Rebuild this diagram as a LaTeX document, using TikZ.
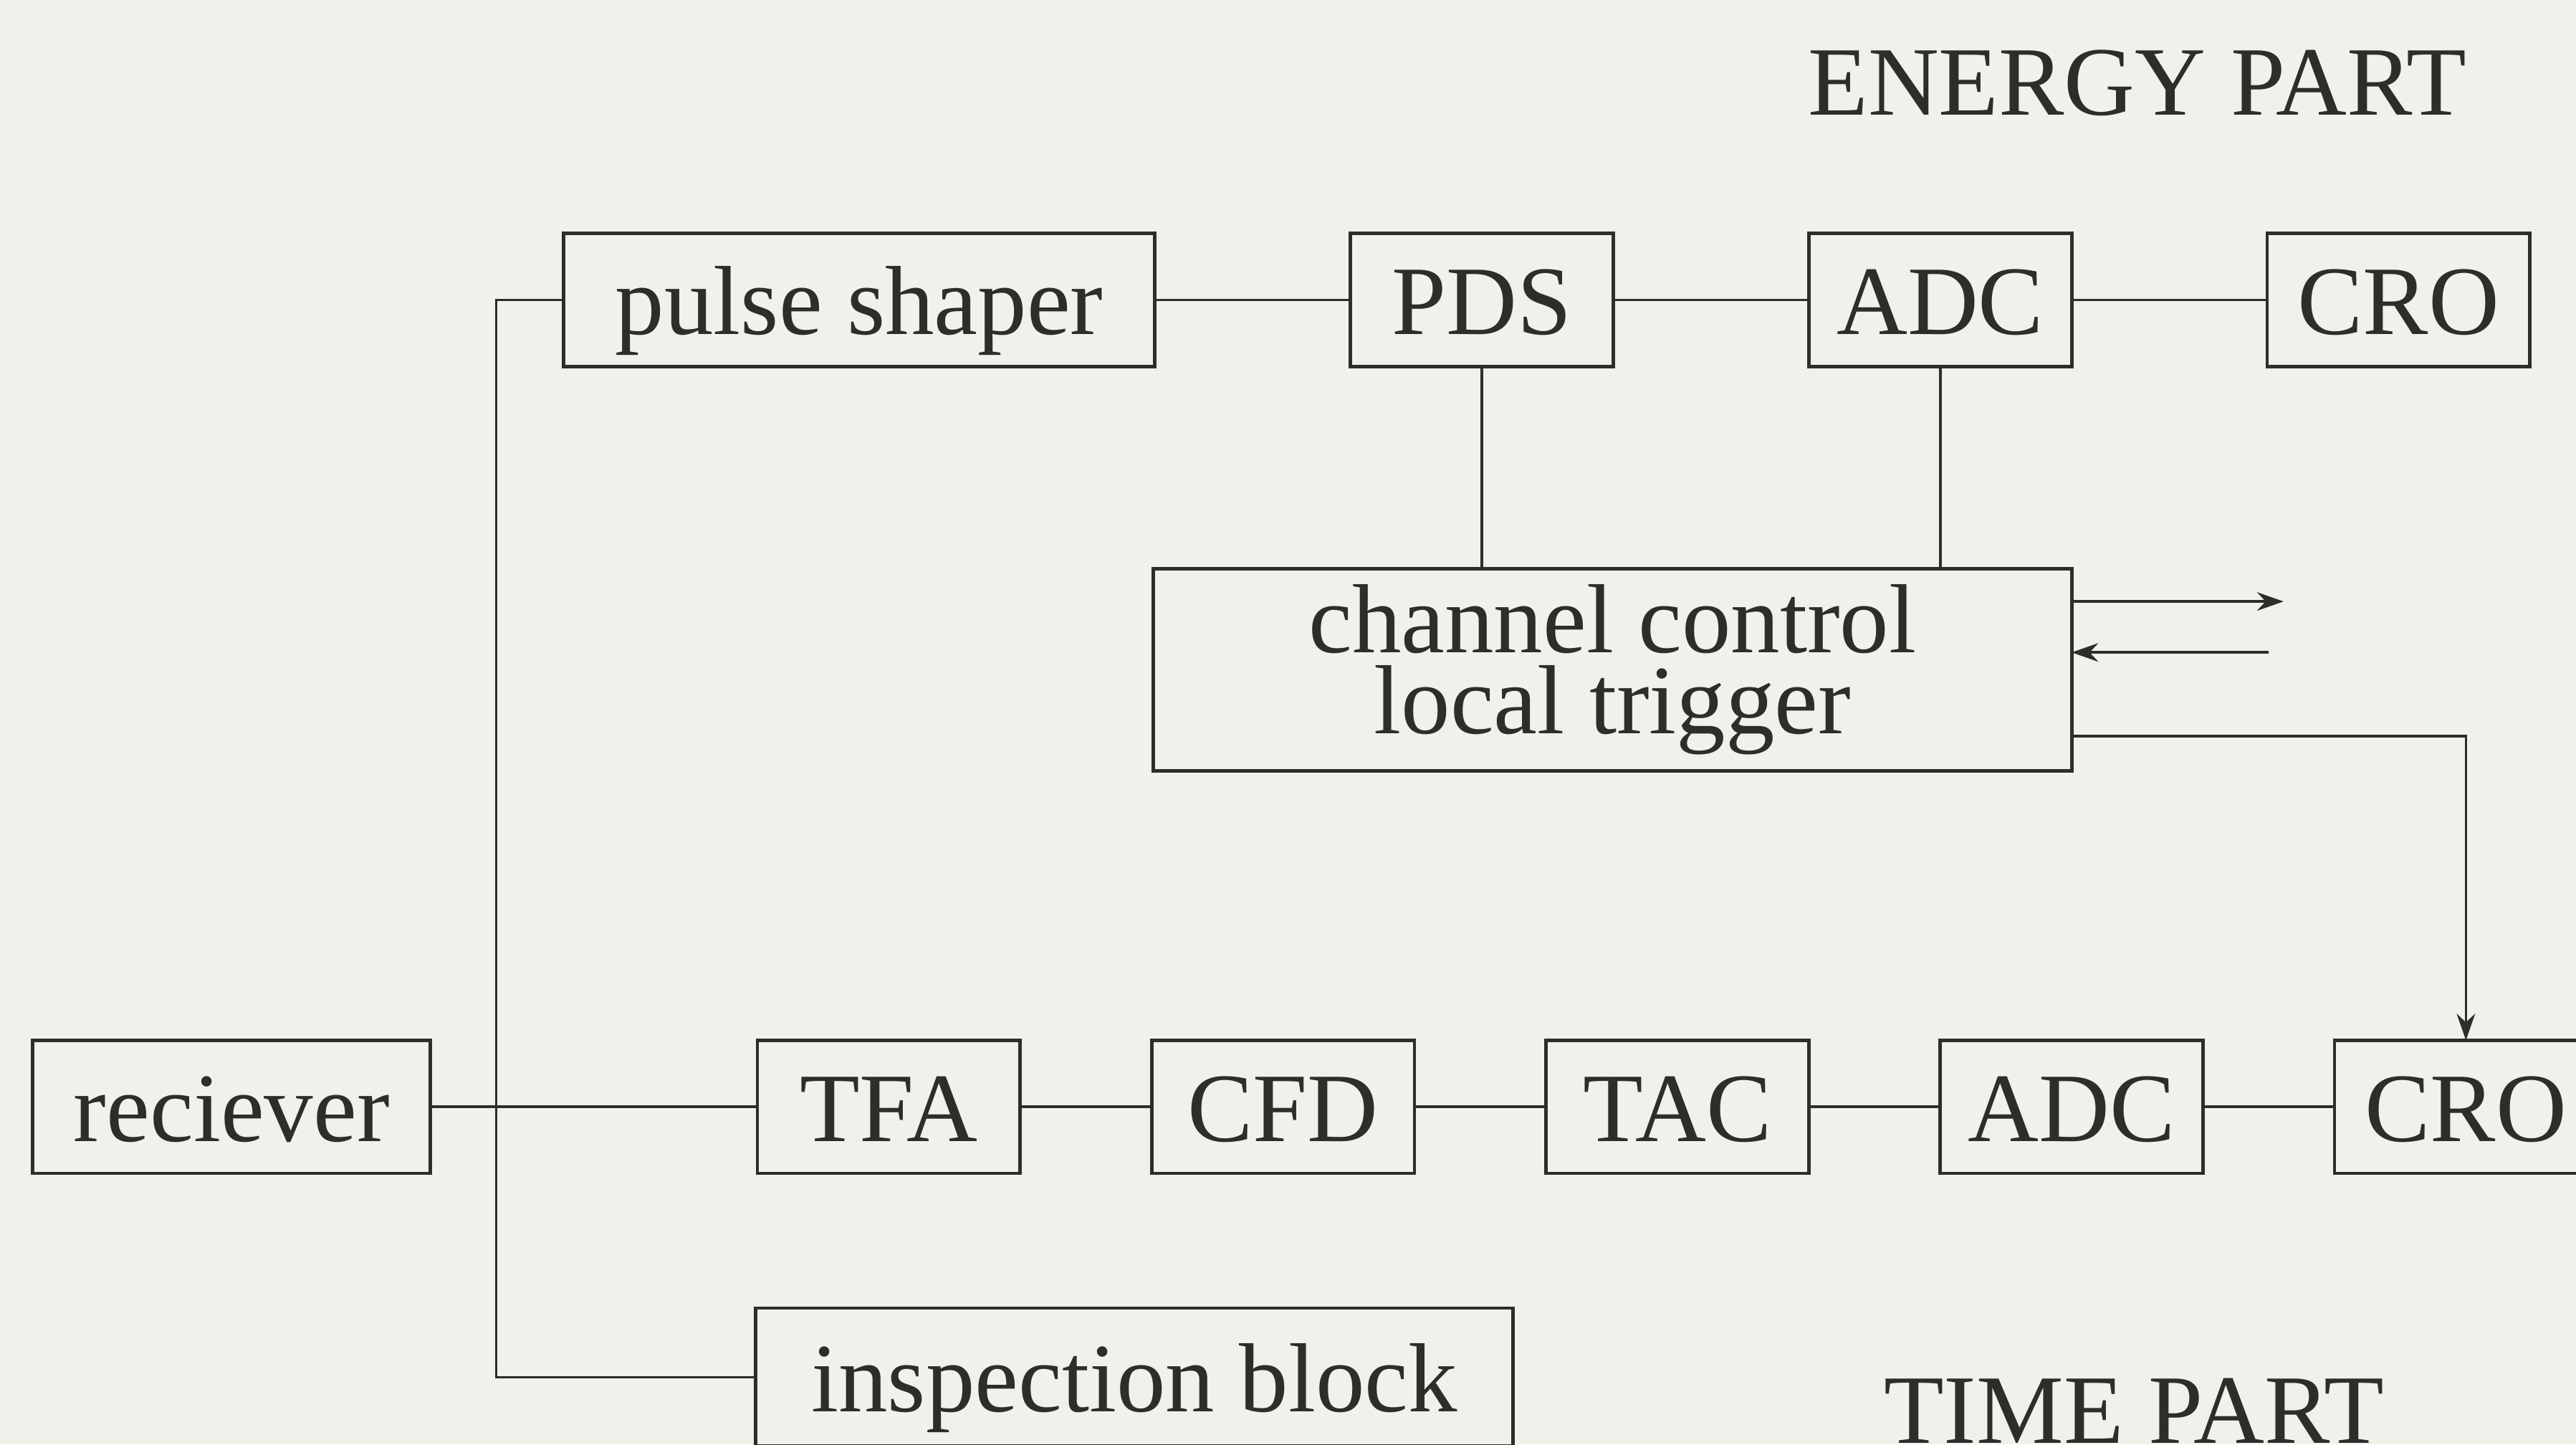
\documentclass[tikz,border=0pt]{standalone}
\usepackage{fontspec}
\setmainfont{Liberation Serif}
\usetikzlibrary{arrows.meta,positioning,calc}
\definecolor{paper}{RGB}{241,241,235}
\definecolor{ink}{RGB}{45,45,42}

\begin{document}
\begin{tikzpicture}[
    x=0.1mm, y=-0.1mm,
    blk/.style={rectangle, draw=ink, line width=0.6pt, minimum width=1.6cm, minimum height=0.81cm, inner sep=0pt, outer sep=0pt, text=ink, font=\fontsize{17}{14}\selectfont, text height=13pt, text depth=1pt},
    lbl/.style={text=ink, font=\fontsize{17}{14}\selectfont, anchor=base, inner sep=0pt},
    conn/.style={draw=ink, line width=0.45pt},
    arrow/.style={conn, -{Stealth[length=4.6pt, width=3.2pt]}}
]
\useasboundingbox (0,0) rectangle (1568,879);
\clip (0,0) rectangle (1568,879);
\fill[paper] (0,0) rectangle (1568,879);

% energy part
\node[blk, minimum width=3.6cm] (ps) at (523,182.5) {pulse shaper};
\node[blk, right=1.19cm of ps] (pds) {PDS};
\node[blk, right=1.19cm of pds] (adct) {ADC};
\node[blk, right=1.19cm of adct] (crot) {CRO};
\node[blk, minimum width=5.59cm, minimum height=1.23cm, text height=, text depth=, align=center] (chan) at (981.5,407.5) {channel control\\local trigger};

% time part
\node[blk, minimum width=2.42cm] (rec) at (141,673.5) {reciever};
\node[blk, right=1.99cm of rec] (tfa) {TFA};
\node[blk, right=0.8cm of tfa] (cfd) {CFD};
\node[blk, right=0.8cm of cfd] (tac) {TAC};
\node[blk, right=0.8cm of tac] (adcb) {ADC};
\node[blk, right=0.8cm of adcb] (crob) {CRO};
\node[blk, minimum width=4.61cm, minimum height=0.84cm, anchor=north west] (insp) at (460,796) {inspection block};

\node[lbl] (energy) at (1301,70) {ENERGY PART};
\node[lbl] (time) at (1299,878) {TIME PART};

\coordinate (bus) at (302,673.5);
\coordinate (out) at (1390,366);
\coordinate (in) at (1381,397);

\draw[conn] (ps) -- (pds);
\draw[conn] (pds) -- (adct);
\draw[conn] (adct) -- (crot);
\draw[conn] (pds) -- (pds |- chan.north);
\draw[conn] (adct) -- (adct |- chan.north);
\draw[arrow] (chan.east |- out) -- (out);
\draw[arrow] (in) -- (chan.east |- in);
\draw[arrow] ($(chan.south east)+(0,-21)$) -| (crob.north);

\draw[conn] (rec) -- (tfa);
\draw[conn] (tfa) -- (cfd);
\draw[conn] (cfd) -- (tac);
\draw[conn] (tac) -- (adcb);
\draw[conn] (adcb) -- (crob);
\draw[conn] (ps.west) -| (bus) |- (insp.west);
\end{tikzpicture}
\end{document}
